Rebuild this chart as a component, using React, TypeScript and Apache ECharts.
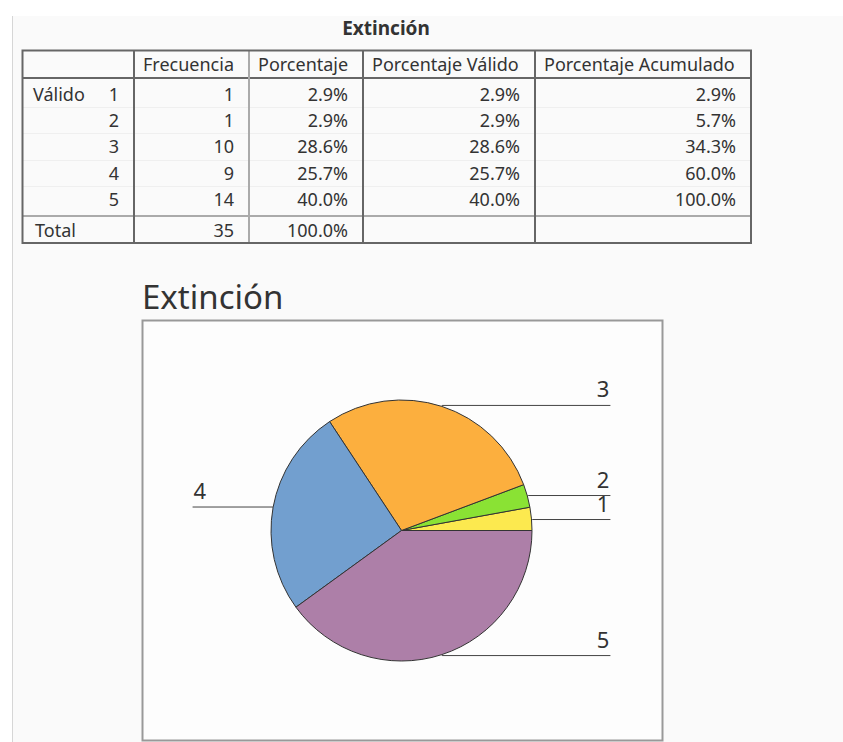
import React, { useEffect, useRef } from 'react';
import * as echarts from 'echarts';

// ---- Data ----
const tableTitle = 'Extinción';
const chartTitle = 'Extinción';
const headers = ['Frecuencia', 'Porcentaje', 'Porcentaje Válido', 'Porcentaje Acumulado'];
const groupLabel = 'Válido';
const totalLabel = 'Total';
const categories = ['1', '2', '3', '4', '5'];
const frequencies = [1, 1, 10, 9, 14];
const percentages = ['2.9%', '2.9%', '28.6%', '25.7%', '40.0%'];
const validPercentages = ['2.9%', '2.9%', '28.6%', '25.7%', '40.0%'];
const cumulativePercentages = ['2.9%', '5.7%', '34.3%', '60.0%', '100.0%'];
const totalFrequency = '35';
const totalPercentage = '100.0%';
const sliceColors = ['#fce94f', '#8ae234', '#fcaf3e', '#729fcf', '#ad7fa8'];

const FONT = "'Noto Sans', sans-serif";
const TEXT = '#333333';

function buildGraphics() {
  const els: any[] = [];
  // page panel
  els.push({ type: 'rect', shape: { x: 13, y: 16, width: 830, height: 726 }, style: { fill: '#fafafa' }, silent: true });
  els.push({ type: 'line', shape: { x1: 12.5, y1: 16, x2: 12.5, y2: 742 }, style: { stroke: '#d6d6d6', lineWidth: 1 }, silent: true });

  const t = (text: string, x: number, y: number, align: string, extra: any = {}) => ({
    type: 'text', x, y, silent: true,
    style: { text, fill: TEXT, fontSize: 18, fontFamily: FONT, align, verticalAlign: 'middle', ...extra },
  });

  // table title
  els.push(t(tableTitle, 386, 28, 'center', { fontWeight: 'bold', fontSize: 19 }));

  const colX = [22.5, 134, 249, 363, 535, 751];
  const top = 50.5, headBottom = 78, totalTop = 216, bottom = 243;
  const rowY0 = 94, rowH = 26.2;

  // faint row separators
  for (let i = 1; i < categories.length; i++) {
    const y = Math.round(81 + rowH * i) + 0.5;
    els.push({ type: 'line', shape: { x1: colX[0], y1: y, x2: colX[5], y2: y }, style: { stroke: '#efefef', lineWidth: 1 }, silent: true });
  }
  // horizontal lines
  els.push({ type: 'line', shape: { x1: colX[0], y1: headBottom, x2: colX[5], y2: headBottom }, style: { stroke: '#666', lineWidth: 2 }, silent: true });
  els.push({ type: 'line', shape: { x1: colX[0], y1: totalTop, x2: colX[5], y2: totalTop }, style: { stroke: '#aaa', lineWidth: 2 }, silent: true });
  // vertical lines
  const vColors = ['#666', '#aaa', '#666', '#666'];
  for (let i = 1; i <= 4; i++) {
    els.push({ type: 'line', shape: { x1: colX[i], y1: top, x2: colX[i], y2: bottom }, style: { stroke: vColors[i - 1], lineWidth: 2 }, silent: true });
  }
  // outer border
  els.push({ type: 'rect', shape: { x: colX[0], y: top, width: colX[5] - colX[0], height: bottom - top }, style: { fill: 'none', stroke: '#666', lineWidth: 2 }, silent: true });

  // header
  headers.forEach((h, i) => els.push(t(h, colX[i + 1] + 9, 64, 'left')));
  // body
  els.push(t(groupLabel, 33, rowY0, 'left'));
  categories.forEach((c, i) => {
    const y = rowY0 + rowH * i;
    els.push(t(c, colX[1] - 15, y, 'right'));
    els.push(t(String(frequencies[i]), colX[2] - 15, y, 'right'));
    els.push(t(percentages[i], colX[3] - 15, y, 'right'));
    els.push(t(validPercentages[i], colX[4] - 15, y, 'right'));
    els.push(t(cumulativePercentages[i], colX[5] - 15, y, 'right'));
  });
  // total
  els.push(t(totalLabel, 35, 230, 'left'));
  els.push(t(totalFrequency, colX[2] - 15, 230, 'right'));
  els.push(t(totalPercentage, colX[3] - 15, 230, 'right'));

  // chart title & frame
  els.push({ type: 'text', x: 142, y: 296, silent: true, style: { text: chartTitle, fill: TEXT, fontSize: 33, fontFamily: FONT, align: 'left', verticalAlign: 'middle' } });
  els.push({ type: 'rect', shape: { x: 142.5, y: 320.5, width: 520, height: 420 }, style: { fill: '#fdfdfd', stroke: '#999', lineWidth: 2 }, silent: true });
  return els;
}

export default function App() {
  const ref = useRef<HTMLDivElement>(null);
  useEffect(() => {
    if (!ref.current) return;
    const chart = echarts.init(ref.current, undefined, { renderer: 'svg' });
    chart.setOption({
      animation: false,
      backgroundColor: '#ffffff',
      graphic: { elements: buildGraphics() },
      series: [
        {
          type: 'pie',
          left: 0,
          top: 0,
          width: 803,
          height: 742,
          center: [401.5, 530.5],
          radius: 130.5,
          startAngle: 0,
          clockwise: false,
          avoidLabelOverlap: true,
          emphasis: { disabled: true },
          itemStyle: { borderColor: '#333', borderWidth: 1 },
          label: {
            show: true,
            position: 'outside',
            alignTo: 'edge',
            edgeDistance: 175,
            formatter: '{b}',
            fontSize: 22,
            lineHeight: 20,
            fontFamily: FONT,
            color: TEXT,
          },
          labelLine: {
            show: true,
            length: 1,
            length2: 20,
            smooth: false,
            lineStyle: { color: '#444', width: 1 },
          },
          labelLayout: (params: any) => {
            const pts = params.labelLinePoints;
            if (!pts) return {};
            const end = pts[pts.length - 1];
            const isLeft = end[0] < pts[0][0];
            return {
              x: end[0] + (isLeft ? 1 : -1),
              y: end[1] - 17,
              align: isLeft ? 'left' : 'right',
              verticalAlign: 'middle',
              labelLinePoints: pts,
            };
          },
          data: categories.map((c, i) => ({
            name: c,
            value: frequencies[i],
            itemStyle: { color: sliceColors[i] },
          })),
        },
      ],
    });
    return () => chart.dispose();
  }, []);
  return <div ref={ref} style={{ position: 'fixed', left: 0, top: 0, width: 843, height: 742 }} />;
}
